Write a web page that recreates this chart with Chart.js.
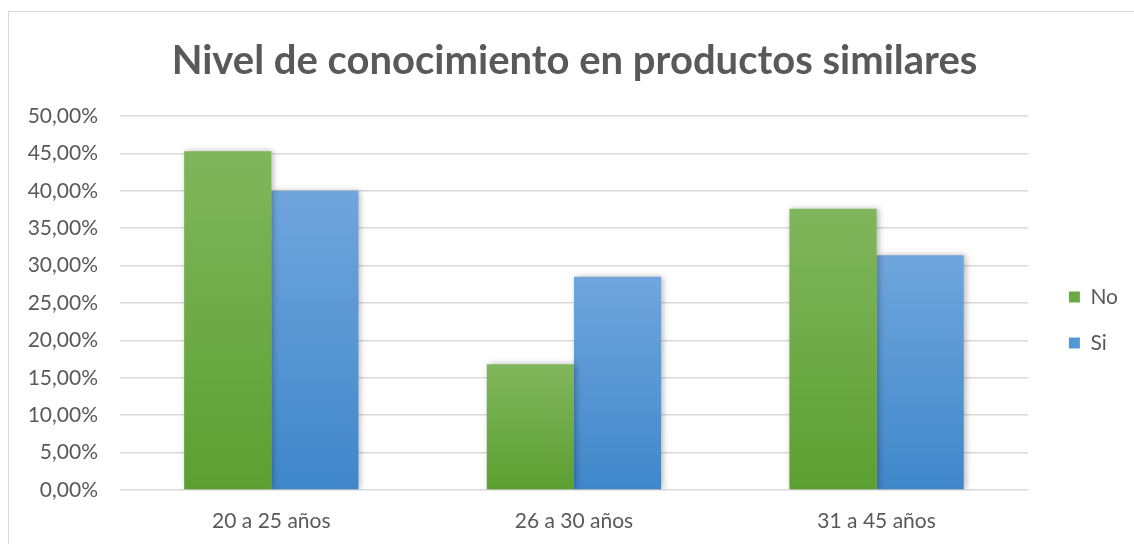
<!DOCTYPE html>
<html>
<head>
<meta charset="utf-8">
<script src="https://cdn.jsdelivr.net/npm/chart.js@4.4.1/dist/chart.umd.min.js"></script>
<style>
  html, body { margin: 0; padding: 0; background: #ffffff; overflow: hidden; width: 1134px; height: 544px; }
  #wrap { position: absolute; left: 8px; top: 11px; width: 1126px; height: 533px; border: 1px solid #d9d9d9; background: #fff; }
  canvas { display: block; }
</style>
</head>
<body>
<div id="wrap"><canvas id="c" width="1126" height="533"></canvas></div>
<script>
const titleText = "Nivel de conocimiento en productos similares";
const categories = ["20 a 25 años", "26 a 30 años", "31 a 45 años"];
const seriesNames = ["No", "Si"];
const noValues = [45.3, 16.8, 37.6];
const siValues = [40.0, 28.5, 31.4];
const yTicks = [0, 5, 10, 15, 20, 25, 30, 35, 40, 45, 50];

const FONT = "Lato, 'Open Sans', sans-serif";
const TXT = "#595959";

function barGradient(top, bottom) {
  return function(context) {
    const chart = context.chart;
    const y = chart.scales && chart.scales.y;
    if (!chart.chartArea || !y || context.type !== 'data') return bottom;
    const v = context.raw;
    const y0 = y.getPixelForValue(0);
    const y1 = y.getPixelForValue(v);
    if (!isFinite(y0) || !isFinite(y1) || y0 === y1) return bottom;
    const g = chart.ctx.createLinearGradient(0, y1, 0, y0);
    g.addColorStop(0, top);
    g.addColorStop(1, bottom);
    return g;
  };
}

const shadowPlugin = {
  id: 'barShadow',
  beforeDatasetDraw(chart) {
    const ctx = chart.ctx;
    ctx.save();
    ctx.shadowColor = 'rgba(0,0,0,0.28)';
    ctx.shadowBlur = 6;
    ctx.shadowOffsetX = 2;
    ctx.shadowOffsetY = 0;
  },
  afterDatasetDraw(chart) {
    chart.ctx.restore();
  }
};

// nudge title and legend boxes to match the reference placement
const boxShift = {
  id: 'boxShift',
  afterLayout(chart) {
    const lg = chart.legend;
    if (lg) { lg.left += 16; lg.right += 16; lg.top += 47; lg.bottom += 47; }
    const tb = chart.titleBlock;
    if (tb) { tb.left += 14; tb.right += 14; }
  }
};

new Chart(document.getElementById('c'), {
  type: 'bar',
  data: {
    labels: categories,
    datasets: [
      {
        label: seriesNames[0],
        data: noValues,
        backgroundColor: barGradient('#80b65c', '#5c9f31'),
        borderWidth: 0,
        categoryPercentage: 0.576,
        barPercentage: 1.0
      },
      {
        label: seriesNames[1],
        data: siValues,
        backgroundColor: barGradient('#70a6dc', '#3f87ca'),
        borderWidth: 0,
        categoryPercentage: 0.576,
        barPercentage: 1.0
      }
    ]
  },
  plugins: [shadowPlugin, boxShift],
  options: {
    responsive: false,
    animation: false,
    events: [],
    layout: { padding: { left: 0, right: 23, top: 0, bottom: 11 } },
    plugins: {
      tooltip: { enabled: false },
      title: {
        display: true,
        text: titleText,
        color: TXT,
        font: { family: FONT, size: 40, weight: 'bold' },
        padding: { top: 25, bottom: 31 }
      },
      legend: {
        display: true,
        position: 'right',
        align: 'center',
        labels: {
          color: TXT,
          font: { family: FONT, size: 21 },
          boxWidth: 11,
          boxHeight: 11,
          padding: 25,
          generateLabels(chart) {
            return chart.data.datasets.map((ds, i) => ({
              text: ds.label,
              fillStyle: i === 0 ? '#6aab45' : '#5398d8',
              strokeStyle: 'rgba(0,0,0,0)',
              lineWidth: 0,
              hidden: false,
              datasetIndex: i,
              fontColor: TXT
            }));
          }
        }
      }
    },
    scales: {
      x: {
        afterFit(scale) { scale.height = 44; },
        grid: { display: false, drawTicks: false },
        border: { display: false },
        ticks: { color: TXT, font: { family: FONT, size: 21 }, padding: 19 }
      },
      y: {
        min: 0,
        max: 50,
        afterFit(scale) { scale.width = 111; },
        afterBuildTicks(scale) { scale.ticks = yTicks.map(v => ({ value: v })); },
        grid: { color: '#d9d9d9', lineWidth: 1.5, drawTicks: false },
        border: { display: false },
        ticks: {
          color: TXT,
          font: { family: FONT, size: 21 },
          padding: 22,
          callback: (v) => v.toFixed(2).replace('.', ',') + '%'
        }
      }
    }
  }
});
</script>
</body>
</html>
